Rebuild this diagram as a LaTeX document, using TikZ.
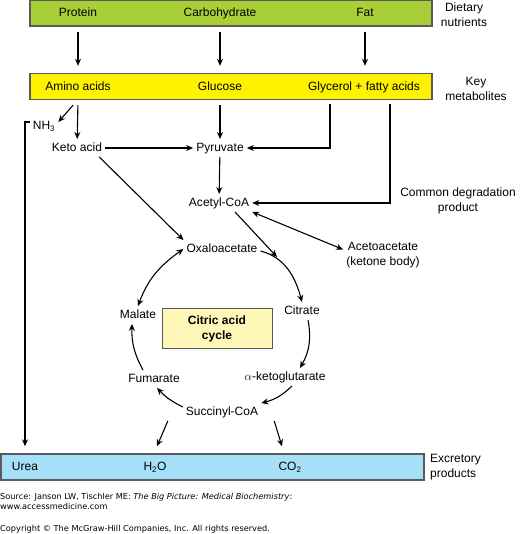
\documentclass[tikz,border=0pt]{standalone}
\usepackage{fontspec}
\setmainfont{Liberation Sans}
\newfontfamily\srcfont{DejaVu Sans}
\usetikzlibrary{arrows.meta,positioning,calc}
\definecolor{nutrgreen}{RGB}{168,207,56}
\definecolor{metabyellow}{RGB}{255,242,0}
\definecolor{excrblue}{RGB}{166,224,248}
\definecolor{cyclecream}{RGB}{255,247,183}
\definecolor{boxgray}{RGB}{90,90,90}

\begin{document}
\begin{tikzpicture}[x=1pt, y=1pt,
  band/.style={draw=boxgray, line width=1.4pt, minimum height=26pt, inner sep=0pt},
  chem/.style={text height=9pt, text depth=2.5pt},
  side/.style={align=center},
  arrow/.style={-{Stealth[length=7pt,width=6pt]}, line width=1.1pt},
  twoway/.style={{Stealth[length=7pt,width=6pt]}-{Stealth[length=7pt,width=6pt]}, line width=1.1pt},
  every node/.style={font=\fontsize{12}{15}\selectfont, inner sep=3pt}
]
  \useasboundingbox (0,0) rectangle (520,534);

  % coloured bands
  \node[band, fill=nutrgreen, minimum width=402pt] (nutr) at (231,521) {};
  \node[band, fill=metabyellow, minimum width=402pt] (metab) at (231,447.5) {};
  \node[band, fill=excrblue, minimum width=423pt] (excr) at (212.5,67) {};

  \foreach \name/\txt/\x in {protein/Protein/78, carbo/Carbohydrate/220, fat/Fat/365}
    \node[chem] (\name) at (\x,521) {\txt};
  \foreach \name/\txt/\x in {amino/Amino acids/78, glucose/Glucose/220, glycerol/Glycerol + fatty acids/364}
    \node[chem] (\name) at (\x,447) {\txt};
  \foreach \name/\txt/\x in {urea/Urea/25, h2o/H\textsubscript{2}O/155, co2/CO\textsubscript{2}/290}
    \node[chem] (\name) at (\x,67) {\txt};

  % side labels
  \node[side] (dietary) at (464,519.5) {Dietary\\nutrients};
  \node[side] (keymet) at (476,445.5) {Key\\metabolites};
  \node[side] (common) at (458,333.5) {Common degradation\\product};
  \node[align=left, anchor=west] (excretory) at (427,67) {Excretory\\products};

  % metabolites
  \node[chem] (nh3) at (44,408) {NH\textsubscript{3}};
  \node[chem] (keto) at (77,386) {Keto acid};
  \node[chem] (pyruvate) at (220,386) {Pyruvate};
  \node[chem] (acetyl) at (219,331) {Acetyl-CoA};
  \node[side] (aceto) at (383,278.5) {Acetoacetate\\(ketone body)};

  % citric acid cycle
  \node[chem] (oxalo) at (222,285) {Oxaloacetate};
  \node[chem] (citrate) at (302,223) {Citrate};
  \node[chem] (akg) at (285,157) {$\alpha$-ketoglutarate};
  \node[chem] (succinyl) at (222,122) {Succinyl-CoA};
  \node[chem] (fumarate) at (154,155) {Fumarate};
  \node[chem] (malate) at (138,219) {Malate};
  \node[draw=boxgray, fill=cyclecream, line width=1pt, minimum width=110pt, minimum height=40pt,
    align=center, font=\fontsize{12}{15}\selectfont\bfseries] (cac) at (217,205) {Citric acid\\cycle};

  \coordinate (glyA) at (330,430);
  \coordinate (glyB) at (390,430);
  \coordinate (nhbend) at (25,412);
  \coordinate (join) at (277,277);

  % arrows
  \foreach \src in {protein, carbo, fat}
    \draw[arrow, shorten <=5pt, shorten >=7pt] (nutr.south -| \src) -- (metab.north -| \src);
  \draw[arrow, shorten <=5pt] (metab.south -| amino) -- (keto);
  \draw[arrow, shorten <=5pt] (metab.south -| glucose) -- (pyruvate);
  \draw[arrow] ($(metab.south -| amino)+(-5,-5)$) -- ([yshift=4pt]nh3.east);
  \draw[arrow, shorten >=7pt] (nhbend -| nh3.west) -- (nhbend) -- (nhbend |- excr.north);
  \draw[arrow] (glyA) |- (pyruvate);
  \draw[arrow] (glyB) |- (acetyl);
  \draw[arrow] (keto) -- (pyruvate);
  \draw[arrow] (pyruvate) -- (acetyl);
  \draw[arrow] ([xshift=-6pt]keto.south east) -- (oxalo.north west);
  \draw[arrow] ([xshift=16pt]acetyl.south) -- (join);
  \draw[twoway] (acetyl.south east) -- ([yshift=6pt]aceto.west);

  \draw[arrow] ([yshift=-2pt]oxalo.east) to[out=-15, in=105] (citrate.north);
  \draw[arrow] ([xshift=6pt]citrate.south) to[bend left=20] ([xshift=15pt]akg.north);
  \draw[arrow] ([xshift=7pt]akg.south) to[bend left=15] (succinyl.north east);
  \draw[arrow] ([yshift=5pt]succinyl.west) to[bend left=10] ([xshift=3pt]fumarate.south);
  \draw[arrow] ([xshift=-11pt]fumarate.north) to[bend left=15] ([xshift=-6pt]malate.south);
  \draw[twoway] (malate.north) to[out=70, in=215] (oxalo.west);

  \draw[arrow] ([xshift=-15pt]succinyl.south west) -- ($(excr.north -| h2o)+(2,7)$);
  \draw[arrow] ([xshift=13pt]succinyl.south east) -- ($(excr.north -| co2)+(-8,7)$);

  % credit lines
  \node[anchor=west, inner sep=0pt, align=left, font=\srcfont\fontsize{8.2}{10}\selectfont] (source) at (0,33)
    {Source: Janson LW, Tischler ME: \textit{The Big Picture: Medical Biochemistry}:\\www.accessmedicine.com};
  \node[anchor=west, inner sep=0pt, font=\srcfont\fontsize{8.2}{10}\selectfont] (copyright) at (0,5)
    {Copyright \textcopyright{} The McGraw-Hill Companies, Inc. All rights reserved.};
\end{tikzpicture}
\end{document}
